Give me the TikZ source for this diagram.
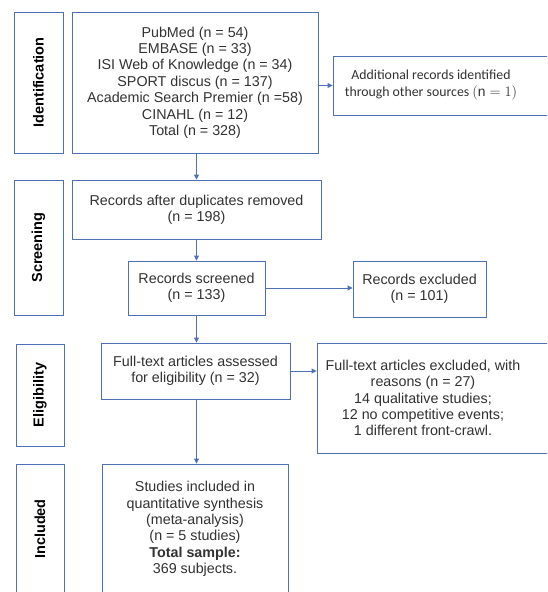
\documentclass[tikz,border=0pt]{standalone}
\usepackage{fontspec}
\setmainfont{Liberation Sans}
\newfontfamily\calfont{Carlito}
\usepackage{amsmath}
\usetikzlibrary{arrows.meta}
\definecolor{flowblue}{RGB}{80,112,182}
\definecolor{flowtext}{RGB}{50,50,50}
\begin{document}
\begin{tikzpicture}[x=1pt,y=-1pt,-{Triangle[length=5pt,width=5pt]},
	flowblue,line width=0.9pt,
	font=\fontsize{14.3}{16.4}\selectfont]
	
	\tikzstyle{box}=[draw=flowblue,fill=white,text=flowtext,align=center,
	inner sep=0pt]
	\tikzstyle{label}=[text=flowtext,align=center,inner sep=0pt]
	\tikzstyle{phase}=[box,text=black,font=\fontsize{14.5}{16}\selectfont\bfseries]
	
	\clip (0,0) rectangle (547,592);
	\useasboundingbox (0,0) rectangle (547,592);
	
	% phases on the left
	\node [phase,minimum width=49pt,minimum height=141pt] (idside) at (38.5,82.5)
	{\rotatebox{90}{Identification}};
	\node [phase,minimum width=49pt,minimum height=135pt] (scrside) at (38.5,247.5)
	{\rotatebox{90}{Screening}};
	\node [phase,minimum width=48pt,minimum height=102pt] (eligside) at (40,395)
	{\rotatebox{90}{Eligibility}};
	\node [phase,minimum width=48pt,minimum height=130pt] (inclside) at (40,529)
	{\rotatebox{90}{Included}};
	
	% flow boxes
	\node [box,minimum width=246pt,minimum height=141pt] (db) at (195,82.5)
	{PubMed (n = 54)\\EMBASE (n = 33)\\ISI Web of Knowledge (n = 34)\\
		SPORT discus (n = 137)\\Academic Search Premier (n =58)\\
		CINAHL (n = 12)\\Total (n = 328)};
	\node [box,minimum width=249pt,minimum height=59pt] (dup) at (196.5,209.5)
	{Records after duplicates removed\\(n = 198)};
	\node [box,minimum width=137pt,minimum height=54pt] (scrd) at (196.5,288)
	{Records screened\\(n = 133)};
	\node [box,minimum width=133pt,minimum height=56pt] (excl) at (419.5,289)
	{Records excluded\\(n = 101)};
	\node [box,minimum width=189pt,minimum height=56pt] (full) at (195.5,371)
	{Full-text articles assessed\\for eligibility (n = 32)};
	\node [box,minimum width=186pt,minimum height=130pt] (incd) at (195,529)
	{Studies included in\\quantitative synthesis\\(meta-analysis)\\(n = 5 studies)\\
		\textbf{Total sample:}\\369 subjects.};
	
	% the two boxes on the right run past the edge, their text sits left
	\node [box,minimum width=216pt,minimum height=59pt] (add) at (441,85.5) {};
	\node [label,font=\fontsize{13.8}{17}\selectfont\calfont] (addtext)
	at ([xshift=-10pt]add.center)
	{Additional records identified\\through other sources $(\mathrm{n}=1)$};
	\node [box,minimum width=232pt,minimum height=110pt] (fexcl) at (433,398) {};
	\node [label] (fexcltext) at ([xshift=-10pt]fexcl.center)
	{Full-text articles excluded, with\\reasons (n = 27)\\14 qualitative studies;\\
		12 no competitive events;\\1 different front-crawl.};
	
	\path (db.south -| scrd.north) edge (scrd.north |- dup.north)
	(db.east |- add.west) edge (add.west)
	(scrd.north |- dup.south) edge (scrd.north)
	(scrd.east) edge (scrd.east -| excl.west)
	(scrd.south) edge (full.north -| scrd.south)
	(full.east) edge (full.east -| fexcl.west)
	(full.south -| scrd.south) edge (incd.north -| scrd.south);
\end{tikzpicture}
\end{document}
